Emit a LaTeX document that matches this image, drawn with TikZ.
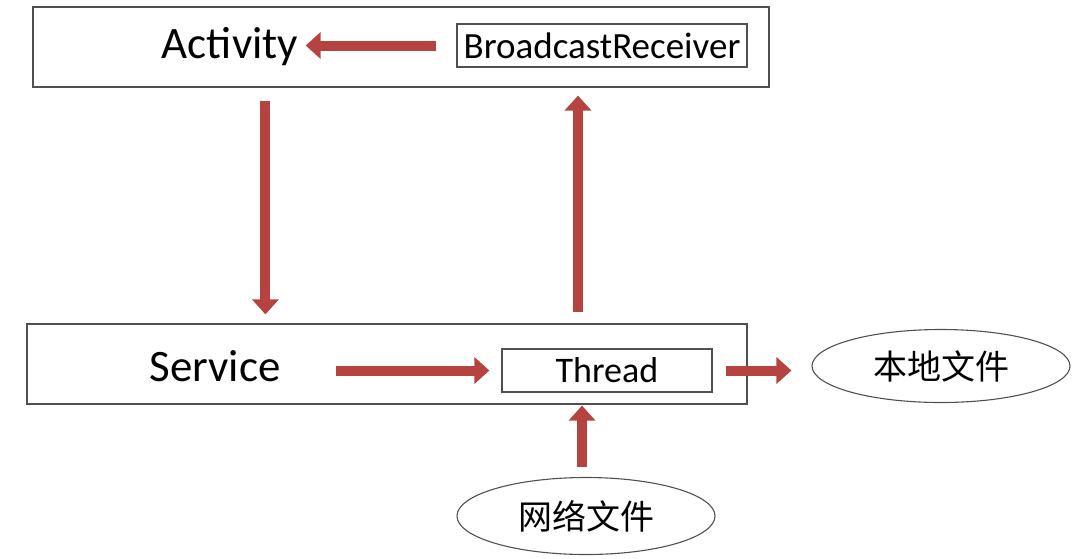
\documentclass[tikz,border=0pt]{standalone}
\usepackage{fontspec}
\setmainfont{Carlito}
\newfontfamily\cjk{Noto Sans CJK SC}
\usetikzlibrary{positioning}
\usetikzlibrary{shapes.geometric,arrows.meta}
\definecolor{arrowred}{HTML}{B5433F}
\definecolor{boxgray}{HTML}{505050}

\begin{document}
\begin{tikzpicture}[x=1pt, y=-1pt,
        box/.style={draw=boxgray, line width=1.2pt, inner sep=0pt},
        bigarrow/.style={draw=arrowred, line width=10pt,
                         -{Triangle[width=26pt, length=15pt]}},
        file/.style={ellipse, draw=boxgray, line width=1.1pt, inner sep=0pt,
                     font=\cjk\fontsize{34}{37}\selectfont},
        ]

        \useasboundingbox (0,0) rectangle (1084,558);

        \node (appbox) [box, minimum width=736pt, minimum height=80pt] at (401,47) {};
        \node (activity) [font=\fontsize{45}{50}\selectfont] at (230,47) {Activity};
        \node (receiver) [box, minimum width=290pt, minimum height=43pt,
                          font=\fontsize{37}{40}\selectfont] at (602,45.5) {BroadcastReceiver};

        \node (servicebox) [box, minimum width=720pt, minimum height=80pt] at (387,364) {};
        \node (service) [font=\fontsize{45}{50}\selectfont] at (215,366) {Service};
        \node (thread) [box, minimum width=210pt, minimum height=43pt,
                        font=\fontsize{36}{40}\selectfont] at (607,370.5) {Thread};

        \node (localfile) [file, minimum width=258pt, minimum height=73pt] at (941,366) {本地文件};
        \node (netfile) [file, minimum width=258pt, minimum height=77pt] at (586,516) {网络文件};

        \draw[bigarrow, shorten <=20pt, shorten >=4pt] (receiver.west) -- (activity.east |- receiver.west);
        \draw[bigarrow, shorten <=13pt, shorten >=9pt] ([xshift=233pt]appbox.south west)
            -- ([xshift=233pt]appbox.south west |- servicebox.north);
        \draw[bigarrow, shorten <=11pt, shorten >=8pt] ([xshift=-24pt]receiver.south |- servicebox.north)
            -- ([xshift=-24pt]receiver.south |- appbox.south);
        \draw[bigarrow, shorten <=52pt, shorten >=12pt] (service.east |- thread.west) -- (thread.west);
        \draw[bigarrow, shorten <=13pt, shorten >=20pt] (thread.east) -- (thread.east -| localfile.west);
        \draw[bigarrow, shorten <=10pt, shorten >=1pt] ([xshift=-4pt]netfile.north)
            -- ([xshift=-4pt]netfile.north |- servicebox.south);

    \end{tikzpicture}
\end{document}
